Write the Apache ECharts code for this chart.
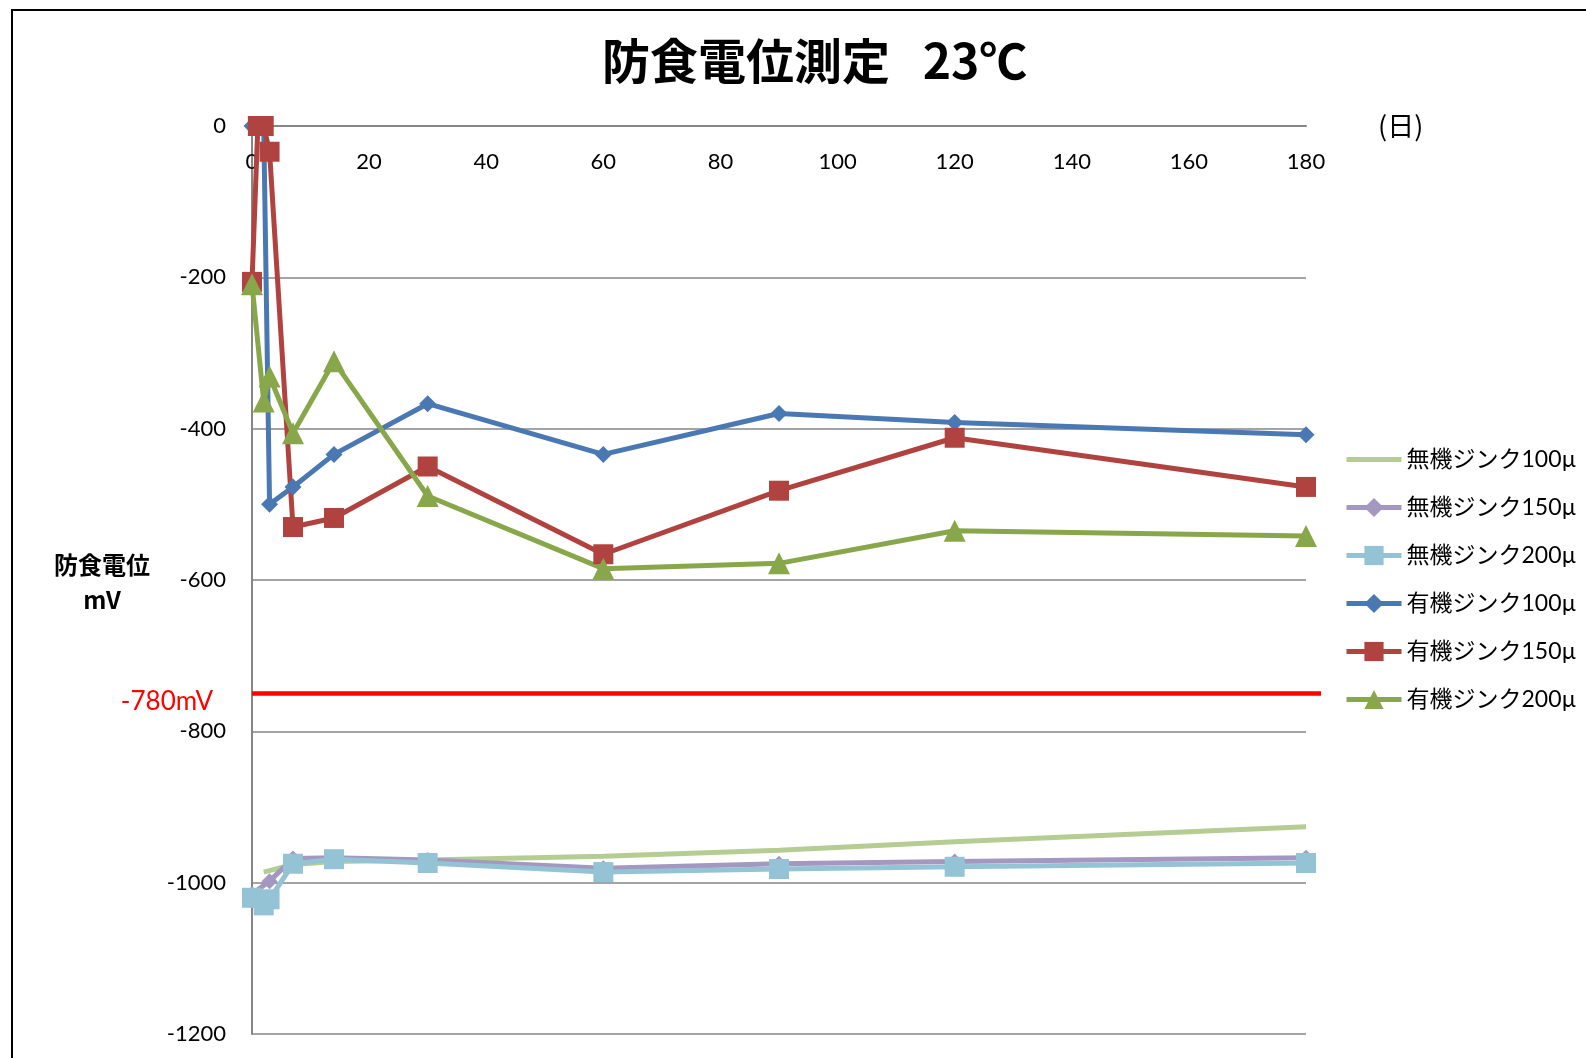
<!DOCTYPE html>
<html>
<head>
<meta charset="utf-8">
<script src="https://cdn.jsdelivr.net/npm/echarts@6/dist/echarts.min.js"></script>
<style>
  html, body { margin: 0; padding: 0; background: #fff; }
  #chart { width: 1586px; height: 1058px; }
</style>
</head>
<body>
<div id="chart"></div>
<script>
// Elapsed days for each series
const daysInorg100 = [2, 7, 14, 30, 60, 90, 120, 180];
const daysInorg150 = [0, 3, 7, 14, 30, 60, 90, 120, 180];
const daysInorg200 = [0, 2, 3, 7, 14, 30, 60, 90, 120, 180];
const daysOrg100   = [0, 2, 3, 7, 14, 30, 60, 90, 120, 180];
const daysOrg150   = [0, 1, 2, 3, 7, 14, 30, 60, 90, 120, 180];
const daysOrg200   = [0, 2, 3, 7, 14, 30, 60, 90, 120, 180];

// Measured corrosion-protection potential (mV)
const mvInorg100 = [-986, -976, -972, -970, -965, -957, -946, -926];
const mvInorg150 = [-1015, -998, -968, -967, -970, -981, -975, -972, -967];
const mvInorg200 = [-1020, -1030, -1022, -975, -969, -974, -986, -982, -979, -974];
const mvOrg100   = [0, 0, -500, -477, -434, -367, -434, -380, -392, -408];
const mvOrg150   = [-206, 0, 0, -34, -530, -518, -450, -566, -482, -412, -477];
const mvOrg200   = [-209, -364, -331, -406, -311, -489, -585, -578, -535, -542];

const seriesNames = ['無機ジンク100µ', '無機ジンク150µ', '無機ジンク200µ',
                     '有機ジンク100µ', '有機ジンク150µ', '有機ジンク200µ'];

// Protection criterion line
const THRESHOLD = -750;
const thresholdLabel = '-780mV';

// Axis ranges
const xMin = 0, xMax = 180, xStep = 20;
const yMin = -1200, yMax = 0, yStep = 200;

const FONT = 'Lato, "Noto Sans CJK JP", sans-serif';
const CJK = '"Noto Sans CJK JP", sans-serif';

function pairs(xs, ys) { return xs.map((x, i) => [x, ys[i]]); }

const chart = echarts.init(document.getElementById('chart'), null, { renderer: 'canvas' });

function lineSeries(name, data, color, symbol, size) {
  return {
    name: name,
    type: 'line',
    data: data,
    symbol: symbol,
    symbolSize: size,
    showSymbol: symbol !== 'none',
    lineStyle: { color: color, width: 5 },
    itemStyle: { color: color },
    emphasis: { disabled: true },
    animation: false
  };
}

const frameGraphics = [
  {
    type: 'rect',
    shape: { x: 12, y: 10, width: 1700, height: 1200 },
    style: { fill: 'none', stroke: '#000', lineWidth: 2 },
    silent: true, z: -10
  },
  {
    type: 'text',
    x: 102, y: 582,
    style: {
      text: '防食電位\nmV',
      fontFamily: CJK, fontSize: 24, fontWeight: 'bold', fill: '#000',
      align: 'center', verticalAlign: 'middle', lineHeight: 35
    },
    silent: true
  }
];

const option = {
  backgroundColor: '#ffffff',
  animation: false,
  title: {
    text: '防食電位測定   23℃',
    left: 597,
    top: 32,
    textStyle: { fontFamily: CJK, fontSize: 48, fontWeight: 'bold', color: '#000' }
  },
  grid: { left: 252, right: 280, top: 126, bottom: 24, containLabel: false, outerBoundsMode: 'none' },
  legend: {
    orient: 'vertical',
    left: 1339,
    top: 443,
    itemWidth: 55,
    itemHeight: 24,
    itemGap: 25,
    data: seriesNames.map((n, i) => i === 0
      ? { name: n, itemStyle: { color: 'rgba(0,0,0,0)', borderWidth: 0 } }
      : { name: n }),
    lineStyle: { width: 5 },
    textStyle: { fontFamily: FONT, fontSize: 23, color: '#000', lineHeight: 22 },
    selectedMode: false
  },
  xAxis: {
    type: 'value',
    position: 'top',
    min: xMin, max: xMax, interval: xStep,
    name: '(日)',
    nameLocation: 'end',
    nameGap: 72,
    nameTextStyle: { fontFamily: CJK, fontSize: 27, color: '#000', verticalAlign: 'middle', padding: [0, 0, 10, 0] },
    axisLine: { show: true, onZero: false, lineStyle: { color: '#868686', width: 2 } },
    axisTick: { show: false },
    axisLabel: { inside: true, fontFamily: FONT, fontSize: 22, color: '#000', margin: 25 },
    splitLine: { show: false }
  },
  yAxis: {
    type: 'value',
    min: yMin, max: yMax, interval: yStep,
    axisLine: { show: true, lineStyle: { color: '#868686', width: 2 } },
    axisTick: { show: false },
    axisLabel: { fontFamily: FONT, fontSize: 22, color: '#000', margin: 26, formatter: v => String(v) },
    splitLine: { show: true, lineStyle: { color: '#868686', width: 1.5 } }
  },
  graphic: frameGraphics,
  series: [
    lineSeries(seriesNames[0], pairs(daysInorg100, mvInorg100), '#B5CD93', 'none', 0),
    lineSeries(seriesNames[1], pairs(daysInorg150, mvInorg150), '#A497C0', 'diamond', 16),
    lineSeries(seriesNames[2], pairs(daysInorg200, mvInorg200), '#93C3D5', 'rect', 20),
    lineSeries(seriesNames[3], pairs(daysOrg100, mvOrg100), '#4A78B3', 'diamond', 17),
    lineSeries(seriesNames[4], pairs(daysOrg150, mvOrg150), '#B0433F', 'rect', 20),
    lineSeries(seriesNames[5], pairs(daysOrg200, mvOrg200), '#88A74A', 'triangle', 22)
  ]
};

chart.setOption(option);

// Criterion line: placed through the axis scales, running a little past the plot edge
const yPix = chart.convertToPixel({ yAxisIndex: 0 }, THRESHOLD);
const x0 = chart.convertToPixel({ xAxisIndex: 0 }, xMin);
const x1 = chart.convertToPixel({ xAxisIndex: 0 }, xMax) + 15;
chart.setOption({
  graphic: frameGraphics.concat([
    {
      type: 'line',
      shape: { x1: x0, y1: yPix, x2: x1, y2: yPix },
      style: { stroke: '#FF0000', lineWidth: 4.5 },
      silent: true, z: 5
    },
    {
      type: 'text',
      x: x0 - 39, y: yPix + 8,
      style: {
        text: thresholdLabel,
        fontFamily: FONT, fontSize: 26, fill: '#FF0000',
        align: 'right', verticalAlign: 'middle'
      },
      silent: true
    }
  ])
});
</script>
</body>
</html>
